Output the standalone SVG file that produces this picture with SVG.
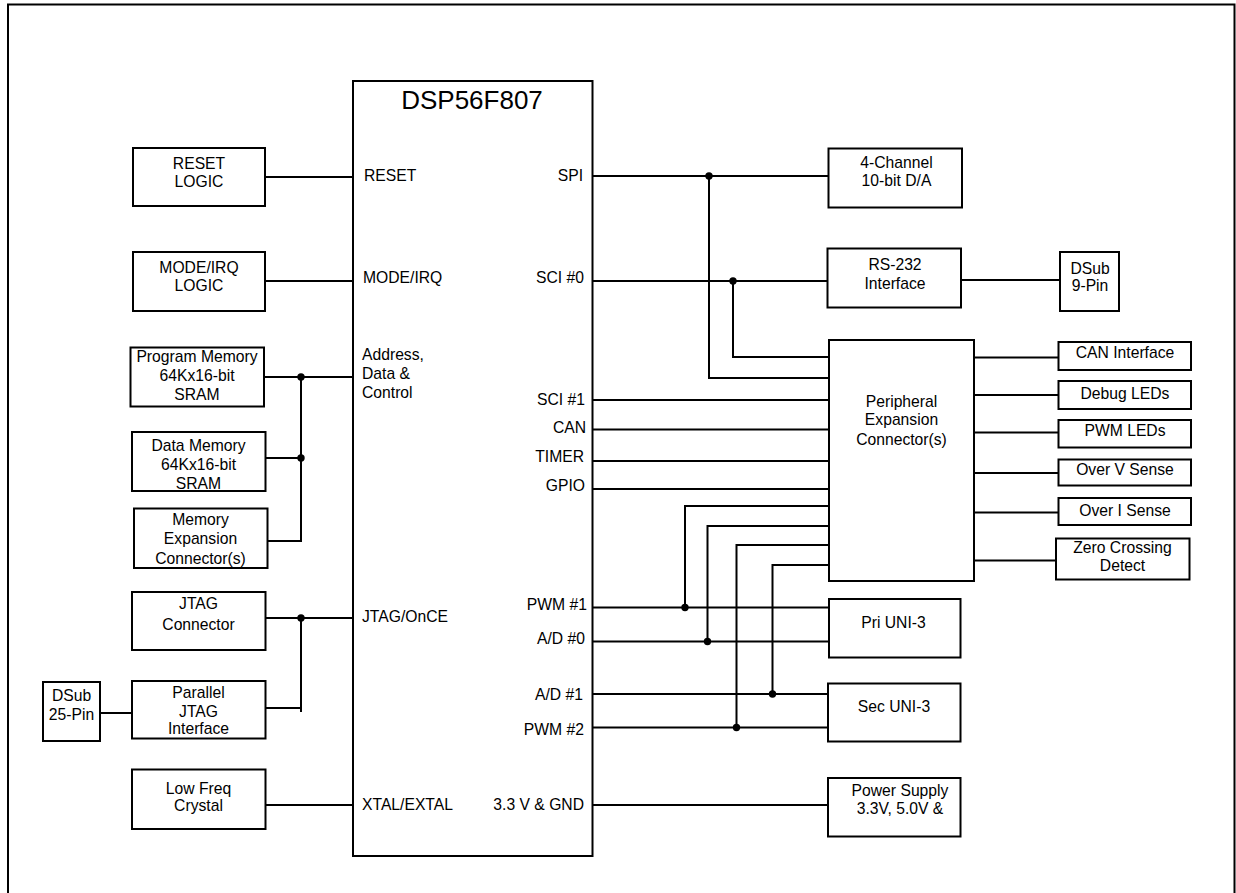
<svg xmlns="http://www.w3.org/2000/svg" width="1236" height="893" viewBox="0 0 1236 893">
<style>
.box{fill:#fff;stroke:#000;stroke-width:2}
.frame{fill:none;stroke:#000;stroke-width:2}
.w{fill:none;stroke:#000;stroke-width:2}
text{font-family:"Liberation Sans",Arial,sans-serif;font-size:15.7px;fill:#000}
.c{text-anchor:middle}
.r{text-anchor:end}
.t{font-size:26px}
.dot{fill:#000}
</style>
<rect width="1236" height="893" fill="#fff"/>
<path class="frame" d="M8,900 V4.5 H1234.5 V900"/>

<g id="connectors">
<!-- left side -->
<path class="w" d="M265,177 H353"/>
<path class="w" d="M265,281 H353"/>
<path class="w" d="M264,377 H353"/>
<path class="w" d="M265,458 H301"/>
<path class="w" d="M267,541 H301 V377"/>
<path class="w" d="M265,618 H353"/>
<path class="w" d="M265,708 H301 M301,618 V712"/>
<path class="w" d="M100,713 H132"/>
<path class="w" d="M265,805 H353"/>
<!-- right side -->
<path class="w" d="M593,176 H828"/>
<path class="w" d="M593,281 H827"/>
<path class="w" d="M709,176 V378 H829"/>
<path class="w" d="M733,281 V357 H829"/>
<path class="w" d="M593,400 H829"/>
<path class="w" d="M593,429.5 H829"/>
<path class="w" d="M593,461 H829"/>
<path class="w" d="M593,489 H829"/>
<path class="w" d="M685,607.5 V506 H829"/>
<path class="w" d="M707.5,641.5 V526 H829"/>
<path class="w" d="M736.5,727.5 V545 H829"/>
<path class="w" d="M772.5,694 V565 H829"/>
<path class="w" d="M593,607.5 H829"/>
<path class="w" d="M593,641.5 H831"/>
<path class="w" d="M593,694 H829"/>
<path class="w" d="M593,727.5 H829"/>
<path class="w" d="M593,805 H828"/>
<path class="w" d="M961,280 H1060"/>
<path class="w" d="M974,357.5 H1058"/>
<path class="w" d="M974,395 H1058"/>
<path class="w" d="M974,432.5 H1058"/>
<path class="w" d="M974,473 H1058"/>
<path class="w" d="M974,512.5 H1058"/>
<path class="w" d="M974,560.5 H1056"/>
<circle class="dot" cx="301" cy="377" r="3.7"/>
<circle class="dot" cx="301" cy="458" r="3.7"/>
<circle class="dot" cx="301" cy="618" r="3.7"/>
<circle class="dot" cx="709" cy="176" r="3.7"/>
<circle class="dot" cx="733" cy="281" r="3.7"/>
<circle class="dot" cx="685" cy="607.5" r="3.7"/>
<circle class="dot" cx="707.5" cy="641.5" r="3.7"/>
<circle class="dot" cx="772.5" cy="694" r="3.7"/>
<circle class="dot" cx="736.5" cy="727.5" r="3.7"/>
</g>

<g id="dsp">
<rect class="box" x="353" y="81" width="239.5" height="775"/>
<text class="c t" x="472" y="109">DSP56F807</text>
<text x="364" y="181">RESET</text>
<text x="363" y="283">MODE/IRQ</text>
<text x="362" y="360">Address,</text>
<text x="362" y="379">Data &amp;</text>
<text x="362" y="398">Control</text>
<text x="362" y="622">JTAG/OnCE</text>
<text x="362" y="810">XTAL/EXTAL</text>
<text class="r" x="583" y="180.5">SPI</text>
<text class="r" x="584" y="283">SCI #0</text>
<text class="r" x="585" y="405">SCI #1</text>
<text class="r" x="586" y="433">CAN</text>
<text class="r" x="584" y="462">TIMER</text>
<text class="r" x="585" y="491">GPIO</text>
<text class="r" x="587" y="610">PWM #1</text>
<text class="r" x="585" y="643.5">A/D #0</text>
<text class="r" x="583" y="700">A/D #1</text>
<text class="r" x="584" y="735">PWM #2</text>
<text class="r" x="584" y="810">3.3 V &amp; GND</text>
</g>

<g id="reset-logic">
<rect class="box" x="133" y="148" width="132" height="58"/>
<text class="c" x="199" y="168.5">RESET</text>
<text class="c" x="199" y="187">LOGIC</text>
</g>
<g id="mode-irq-logic">
<rect class="box" x="133" y="252" width="132" height="59"/>
<text class="c" x="199" y="272.5">MODE/IRQ</text>
<text class="c" x="199" y="291">LOGIC</text>
</g>
<g id="program-memory">
<rect class="box" x="130.5" y="347.5" width="133.5" height="59"/>
<text class="c" x="197" y="362">Program Memory</text>
<text class="c" x="197" y="380.5">64Kx16-bit</text>
<text class="c" x="197" y="399.5">SRAM</text>
</g>
<g id="data-memory">
<rect class="box" x="132" y="432" width="133.5" height="59"/>
<text class="c" x="198.5" y="451">Data Memory</text>
<text class="c" x="198.5" y="469.5">64Kx16-bit</text>
<text class="c" x="198.5" y="488.5">SRAM</text>
</g>
<g id="memory-expansion">
<rect class="box" x="134" y="508.5" width="133.5" height="59.5"/>
<text class="c" x="200.5" y="525">Memory</text>
<text class="c" x="200.5" y="543.5">Expansion</text>
<text class="c" x="200.5" y="563.5">Connector(s)</text>
</g>
<g id="jtag-connector">
<rect class="box" x="132" y="592" width="133.5" height="58"/>
<text class="c" x="198.5" y="609">JTAG</text>
<text class="c" x="198.5" y="629.5">Connector</text>
</g>
<g id="parallel-jtag">
<rect class="box" x="132" y="681" width="133.5" height="57.5"/>
<text class="c" x="198.5" y="697.5">Parallel</text>
<text class="c" x="198.5" y="716.5">JTAG</text>
<text class="c" x="198.5" y="733.5">Interface</text>
</g>
<g id="dsub-25">
<rect class="box" x="43" y="682" width="57" height="59"/>
<text class="c" x="71.5" y="701">DSub</text>
<text class="c" x="71.5" y="720">25-Pin</text>
</g>
<g id="low-freq-crystal">
<rect class="box" x="132" y="769.5" width="133.5" height="59.5"/>
<text class="c" x="198.5" y="793.5">Low Freq</text>
<text class="c" x="198.5" y="811">Crystal</text>
</g>

<g id="dac">
<rect class="box" x="828.5" y="148.5" width="133.5" height="59"/>
<text class="c" x="896.5" y="167.5">4-Channel</text>
<text class="c" x="896.5" y="186">10-bit D/A</text>
</g>
<g id="rs232">
<rect class="box" x="827.5" y="248.5" width="133.5" height="59"/>
<text class="c" x="895" y="270">RS-232</text>
<text class="c" x="895" y="288.5">Interface</text>
</g>
<g id="dsub-9">
<rect class="box" x="1060" y="252" width="59" height="59"/>
<text class="c" x="1090" y="273.5">DSub</text>
<text class="c" x="1090" y="291">9-Pin</text>
</g>
<g id="peripheral-expansion">
<rect class="box" x="829" y="340" width="145" height="241"/>
<text class="c" x="901.5" y="407">Peripheral</text>
<text class="c" x="901.5" y="425">Expansion</text>
<text class="c" x="901.5" y="444.5">Connector(s)</text>
</g>
<g id="can-interface">
<rect class="box" x="1058.5" y="342" width="132.5" height="28"/>
<text class="c" x="1125" y="357.5">CAN Interface</text>
</g>
<g id="debug-leds">
<rect class="box" x="1058.5" y="381" width="132.5" height="28"/>
<text class="c" x="1125" y="398.5">Debug LEDs</text>
</g>
<g id="pwm-leds">
<rect class="box" x="1058.5" y="420" width="132.5" height="27.5"/>
<text class="c" x="1125" y="436">PWM LEDs</text>
</g>
<g id="over-v-sense">
<rect class="box" x="1058.5" y="459.5" width="132.5" height="26"/>
<text class="c" x="1125" y="475">Over V Sense</text>
</g>
<g id="over-i-sense">
<rect class="box" x="1058.5" y="498" width="132.5" height="27"/>
<text class="c" x="1125" y="515.5">Over I Sense</text>
</g>
<g id="zero-crossing">
<rect class="box" x="1056" y="538.5" width="133.5" height="41"/>
<text class="c" x="1122.5" y="553">Zero Crossing</text>
<text class="c" x="1122.5" y="571">Detect</text>
</g>
<g id="pri-uni3">
<rect class="box" x="829" y="599" width="131.5" height="58.5"/>
<text class="c" x="893.5" y="627.5">Pri UNI-3</text>
</g>
<g id="sec-uni3">
<rect class="box" x="828" y="683.5" width="132.5" height="58"/>
<text class="c" x="894" y="712">Sec UNI-3</text>
</g>
<g id="power-supply">
<rect class="box" x="828" y="778" width="132.5" height="58.5"/>
<text class="c" x="900" y="796">Power Supply</text>
<text class="c" x="900" y="814">3.3V, 5.0V &amp;</text>
</g>
</svg>
